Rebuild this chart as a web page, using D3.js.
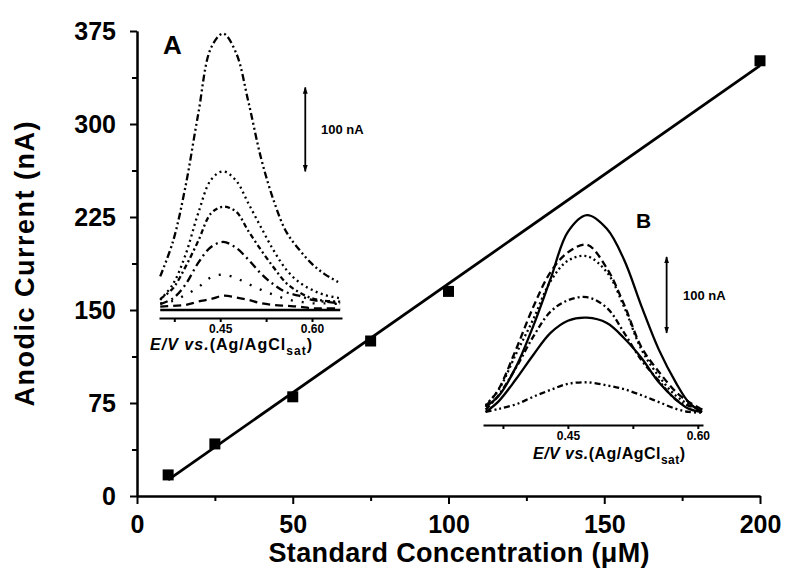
<!DOCTYPE html>
<html>
<head>
<meta charset="utf-8">
<script src="https://cdn.jsdelivr.net/npm/d3@7"></script>
<style>
  body { margin: 0; background: #fff; }
  svg { display: block; }
  text { font-family: "Liberation Sans", Arial, sans-serif; font-weight: bold; fill: #000; }
  .axis path, .axis line { stroke: #000; stroke-width: 2; }
</style>
</head>
<body>
<div id="chart"></div>
<script>
// main calibration data (concentration in uM, anodic current in nA)
var concentration = [10, 25, 50, 75, 100, 200];
var current = [17, 42, 80, 125, 165, 351];
var fitX = [10, 200];
var fitY = [13, 347];
var xTicks = [0, 50, 100, 150, 200];
var xMinor = [25, 75, 125, 175];
var yTicks = [0, 75, 150, 225, 300, 375];
var yMinor = [37.5, 112.5, 187.5, 262.5, 337.5];

// inset A voltammograms (E in V, current in nA)
var potentialA = [0.352, 0.373, 0.393, 0.414, 0.435, 0.455, 0.476, 0.496, 0.517, 0.538, 0.558, 0.579, 0.600, 0.620, 0.646];
var curveA1 = [40, 82, 146, 233, 312, 329, 306, 248, 180, 129, 93, 72, 55, 43, 32];
var curveA2 = [12, 31, 65, 115, 155, 165, 154, 127, 98, 70, 48, 33, 24, 18, 14];
var curveA3 = [13, 26, 51, 82, 115, 123, 117, 94, 71, 50, 32, 21, 14, 11, 10];
var curveA4 = [7, 14, 30, 56, 75, 81, 74, 60, 43, 30, 21, 17, 12, 10, 8];
var curveA5 = [8, 11, 18, 27, 39, 42, 38, 31, 24, 18, 13, 10, 8, 8, 7];
var curveA6 = [4, 5, 6, 10, 13, 17, 15, 12, 8, 6, 5, 4, 2, 2, 2];
var curveA7 = [0, 0, 0, 0, 0, 0, 0, 0, 0, 0, 0, 0, 0, 0, 0];

// inset B voltammograms
var potentialB = [0.355, 0.370, 0.390, 0.410, 0.430, 0.450, 0.472, 0.495, 0.515, 0.535, 0.555, 0.575, 0.590, 0.605];
var curveB1 = [11, 25, 63, 117, 179, 241, 263, 245, 204, 143, 86, 42, 16, 4];
var curveB2 = [11, 34, 86, 142, 188, 214, 224, 193, 145, 89, 57, 30, 17, 7];
var curveB3 = [13, 33, 80, 126, 176, 203, 209, 188, 142, 86, 51, 25, 14, 7];
var curveB4 = [7, 26, 62, 103, 136, 151, 155, 141, 108, 72, 45, 20, 12, 7];
var curveB5 = [4, 18, 47, 79, 108, 124, 128, 121, 101, 75, 43, 20, 8, 4];
var curveB6 = [4, 8, 14, 24, 33, 41, 43, 39, 34, 26, 17, 8, 4, 3];

var insetTicks = [0.375, 0.45, 0.525, 0.60];
var insetLabels = [0.45, 0.60];
var scaleBarA = [165, 265];
var scaleBarB = [108, 208];

var svgWidth = 785;
var svgHeight = 569;

var svg = d3.select("#chart")
  .append("svg")
  .attr("width", svgWidth)
  .attr("height", svgHeight);

svg.append("rect").attr("width", svgWidth).attr("height", svgHeight).attr("fill", "#fff");

svg.append("defs").append("marker")
  .attr("id", "arrow")
  .attr("viewBox", "0 0 10 10")
  .attr("refX", 9).attr("refY", 5)
  .attr("markerWidth", 7).attr("markerHeight", 8)
  .attr("markerUnits", "userSpaceOnUse")
  .attr("orient", "auto-start-reverse")
  .append("path")
  .attr("d", "M0,1.5L10,5L0,8.5Z")
  .attr("fill", "#000");

// ---------- main chart ----------
var x = d3.scaleLinear().domain([0, 200]).range([137, 760]);
var y = d3.scaleLinear().domain([0, 375]).range([496, 31]);

function styleTicks(g, size) {
  g.selectAll("text").style("font-size", size + "px");
}

svg.append("g")
  .attr("class", "axis")
  .attr("transform", "translate(0,496)")
  .call(d3.axisBottom(x).tickValues(xMinor).tickSize(5).tickSizeOuter(0).tickFormat(""));

var xAxis = svg.append("g")
  .attr("class", "axis")
  .attr("transform", "translate(0,496)")
  .call(d3.axisBottom(x).tickValues(xTicks).tickSize(8).tickSizeOuter(0).tickPadding(11).tickFormat(d3.format("d")));
styleTicks(xAxis, 25);

svg.append("g")
  .attr("class", "axis")
  .attr("transform", "translate(137,0)")
  .call(d3.axisLeft(y).tickValues(yMinor).tickSize(5).tickSizeOuter(0).tickFormat(""));

var yAxis = svg.append("g")
  .attr("class", "axis")
  .attr("transform", "translate(137,0)")
  .call(d3.axisLeft(y).tickValues(yTicks).tickSize(7).tickSizeOuter(0).tickPadding(14).tickFormat(d3.format("d")));
styleTicks(yAxis, 25);

// fit line
var fitPts = fitX.map(function(d, i) { return [d, fitY[i]]; });
svg.append("path")
  .attr("d", d3.line().x(function(d) { return x(d[0]); }).y(function(d) { return y(d[1]); })(fitPts))
  .attr("fill", "none")
  .attr("stroke", "#000")
  .attr("stroke-width", 2.8);

// squares
svg.selectAll(".pt")
  .data(concentration)
  .enter()
  .append("rect")
  .attr("class", "pt")
  .attr("x", function(d) { return x(d) - 5.5; })
  .attr("y", function(d, i) { return y(current[i]) - 5.5; })
  .attr("width", 11)
  .attr("height", 11)
  .attr("fill", "#000");

// axis titles
svg.append("text")
  .attr("transform", "translate(34,264) rotate(-90)")
  .attr("text-anchor", "middle")
  .attr("textLength", 285)
  .style("font-size", "27px")
  .text("Anodic Current (nA)");

svg.append("text")
  .attr("x", 459)
  .attr("y", 562)
  .attr("text-anchor", "middle")
  .attr("textLength", 381)
  .style("font-size", "27px")
  .text("Standard Concentration (\u03bcM)");

// ---------- insets ----------
function drawInset(opt) {
  var g = svg.append("g");
  var ax = g.append("g")
    .attr("class", "axis")
    .attr("transform", "translate(0," + opt.axisY + ")")
    .call(d3.axisBottom(opt.xs).tickValues(insetTicks).tickSize(4).tickSizeOuter(0).tickPadding(2)
      .tickFormat(function(d) { return insetLabels.indexOf(d) >= 0 ? d3.format(".2f")(d) : ""; }));
  ax.selectAll("text").style("font-size", "12px");

  var line = d3.line()
    .x(function(d) { return opt.xs(d[0]); })
    .y(function(d) { return opt.ys(d[1]); })
    .curve(d3.curveCatmullRom.alpha(0.5));

  opt.curves.forEach(function(c) {
    var pts = opt.potential.map(function(e, i) { return [e, c.values[i]]; });
    g.append("path")
      .attr("d", line(pts))
      .attr("fill", "none")
      .attr("stroke", "#000")
      .attr("stroke-width", 2.3)
      .attr("stroke-dasharray", c.dash);
  });

  // 100 nA scale bar
  g.append("line")
    .attr("x1", opt.xs(opt.barE)).attr("x2", opt.xs(opt.barE))
    .attr("y1", opt.ys(opt.bar[0])).attr("y2", opt.ys(opt.bar[1]))
    .attr("stroke", "#000")
    .attr("stroke-width", 1.8)
    .attr("marker-start", "url(#arrow)")
    .attr("marker-end", "url(#arrow)");
  g.append("text")
    .attr("x", opt.barLabelX)
    .attr("y", (opt.ys(opt.bar[0]) + opt.ys(opt.bar[1])) / 2 + 5)
    .style("font-size", "13px")
    .text("100 nA");

  g.append("text")
    .attr("x", opt.letterX).attr("y", opt.letterY)
    .style("font-size", opt.letterSize + "px")
    .text(opt.letter);

  var t = g.append("text")
    .attr("x", opt.titleX).attr("y", opt.titleY)
    .attr("textLength", opt.titleW)
    .style("font-size", "16px");
  t.append("tspan").style("font-style", "italic").text("E/V vs.");
  t.append("tspan").text("(Ag/AgCl");
  t.append("tspan").attr("dy", 5).style("font-size", "12px").text("sat");
  t.append("tspan").attr("dy", -5).text(")");
}

drawInset({
  xs: d3.scaleLinear().domain([0.35, 0.649]).range([159, 342]),
  ys: d3.scaleLinear().domain([0, 100]).range([310, 226]),
  axisY: 318,
  potential: potentialA,
  curves: [
    { values: curveA1, dash: "7,3,2,3,2,3" },
    { values: curveA2, dash: "2,3.5" },
    { values: curveA3, dash: "5,3,2,3" },
    { values: curveA4, dash: "8,4,2,4" },
    { values: curveA5, dash: "2,9" },
    { values: curveA6, dash: "8,5" },
    { values: curveA7, dash: null }
  ],
  barE: 0.589, bar: scaleBarA, barLabelX: 321,
  letter: "A", letterX: 163, letterY: 54, letterSize: 26,
  titleX: 150, titleY: 350, titleW: 162
});

drawInset({
  xs: d3.scaleLinear().domain([0.352, 0.606]).range([483, 703]),
  ys: d3.scaleLinear().domain([0, 100]).range([415, 339]),
  axisY: 425,
  potential: potentialB,
  curves: [
    { values: curveB1, dash: null },
    { values: curveB2, dash: "7,4" },
    { values: curveB3, dash: "2,3" },
    { values: curveB4, dash: "6,3,2,3" },
    { values: curveB5, dash: null },
    { values: curveB6, dash: "6,3,2,3,2,3" }
  ],
  barE: 0.564, bar: scaleBarB, barLabelX: 683,
  letter: "B", letterX: 636, letterY: 228, letterSize: 21,
  titleX: 533, titleY: 459, titleW: 152
});
</script>
</body>
</html>
